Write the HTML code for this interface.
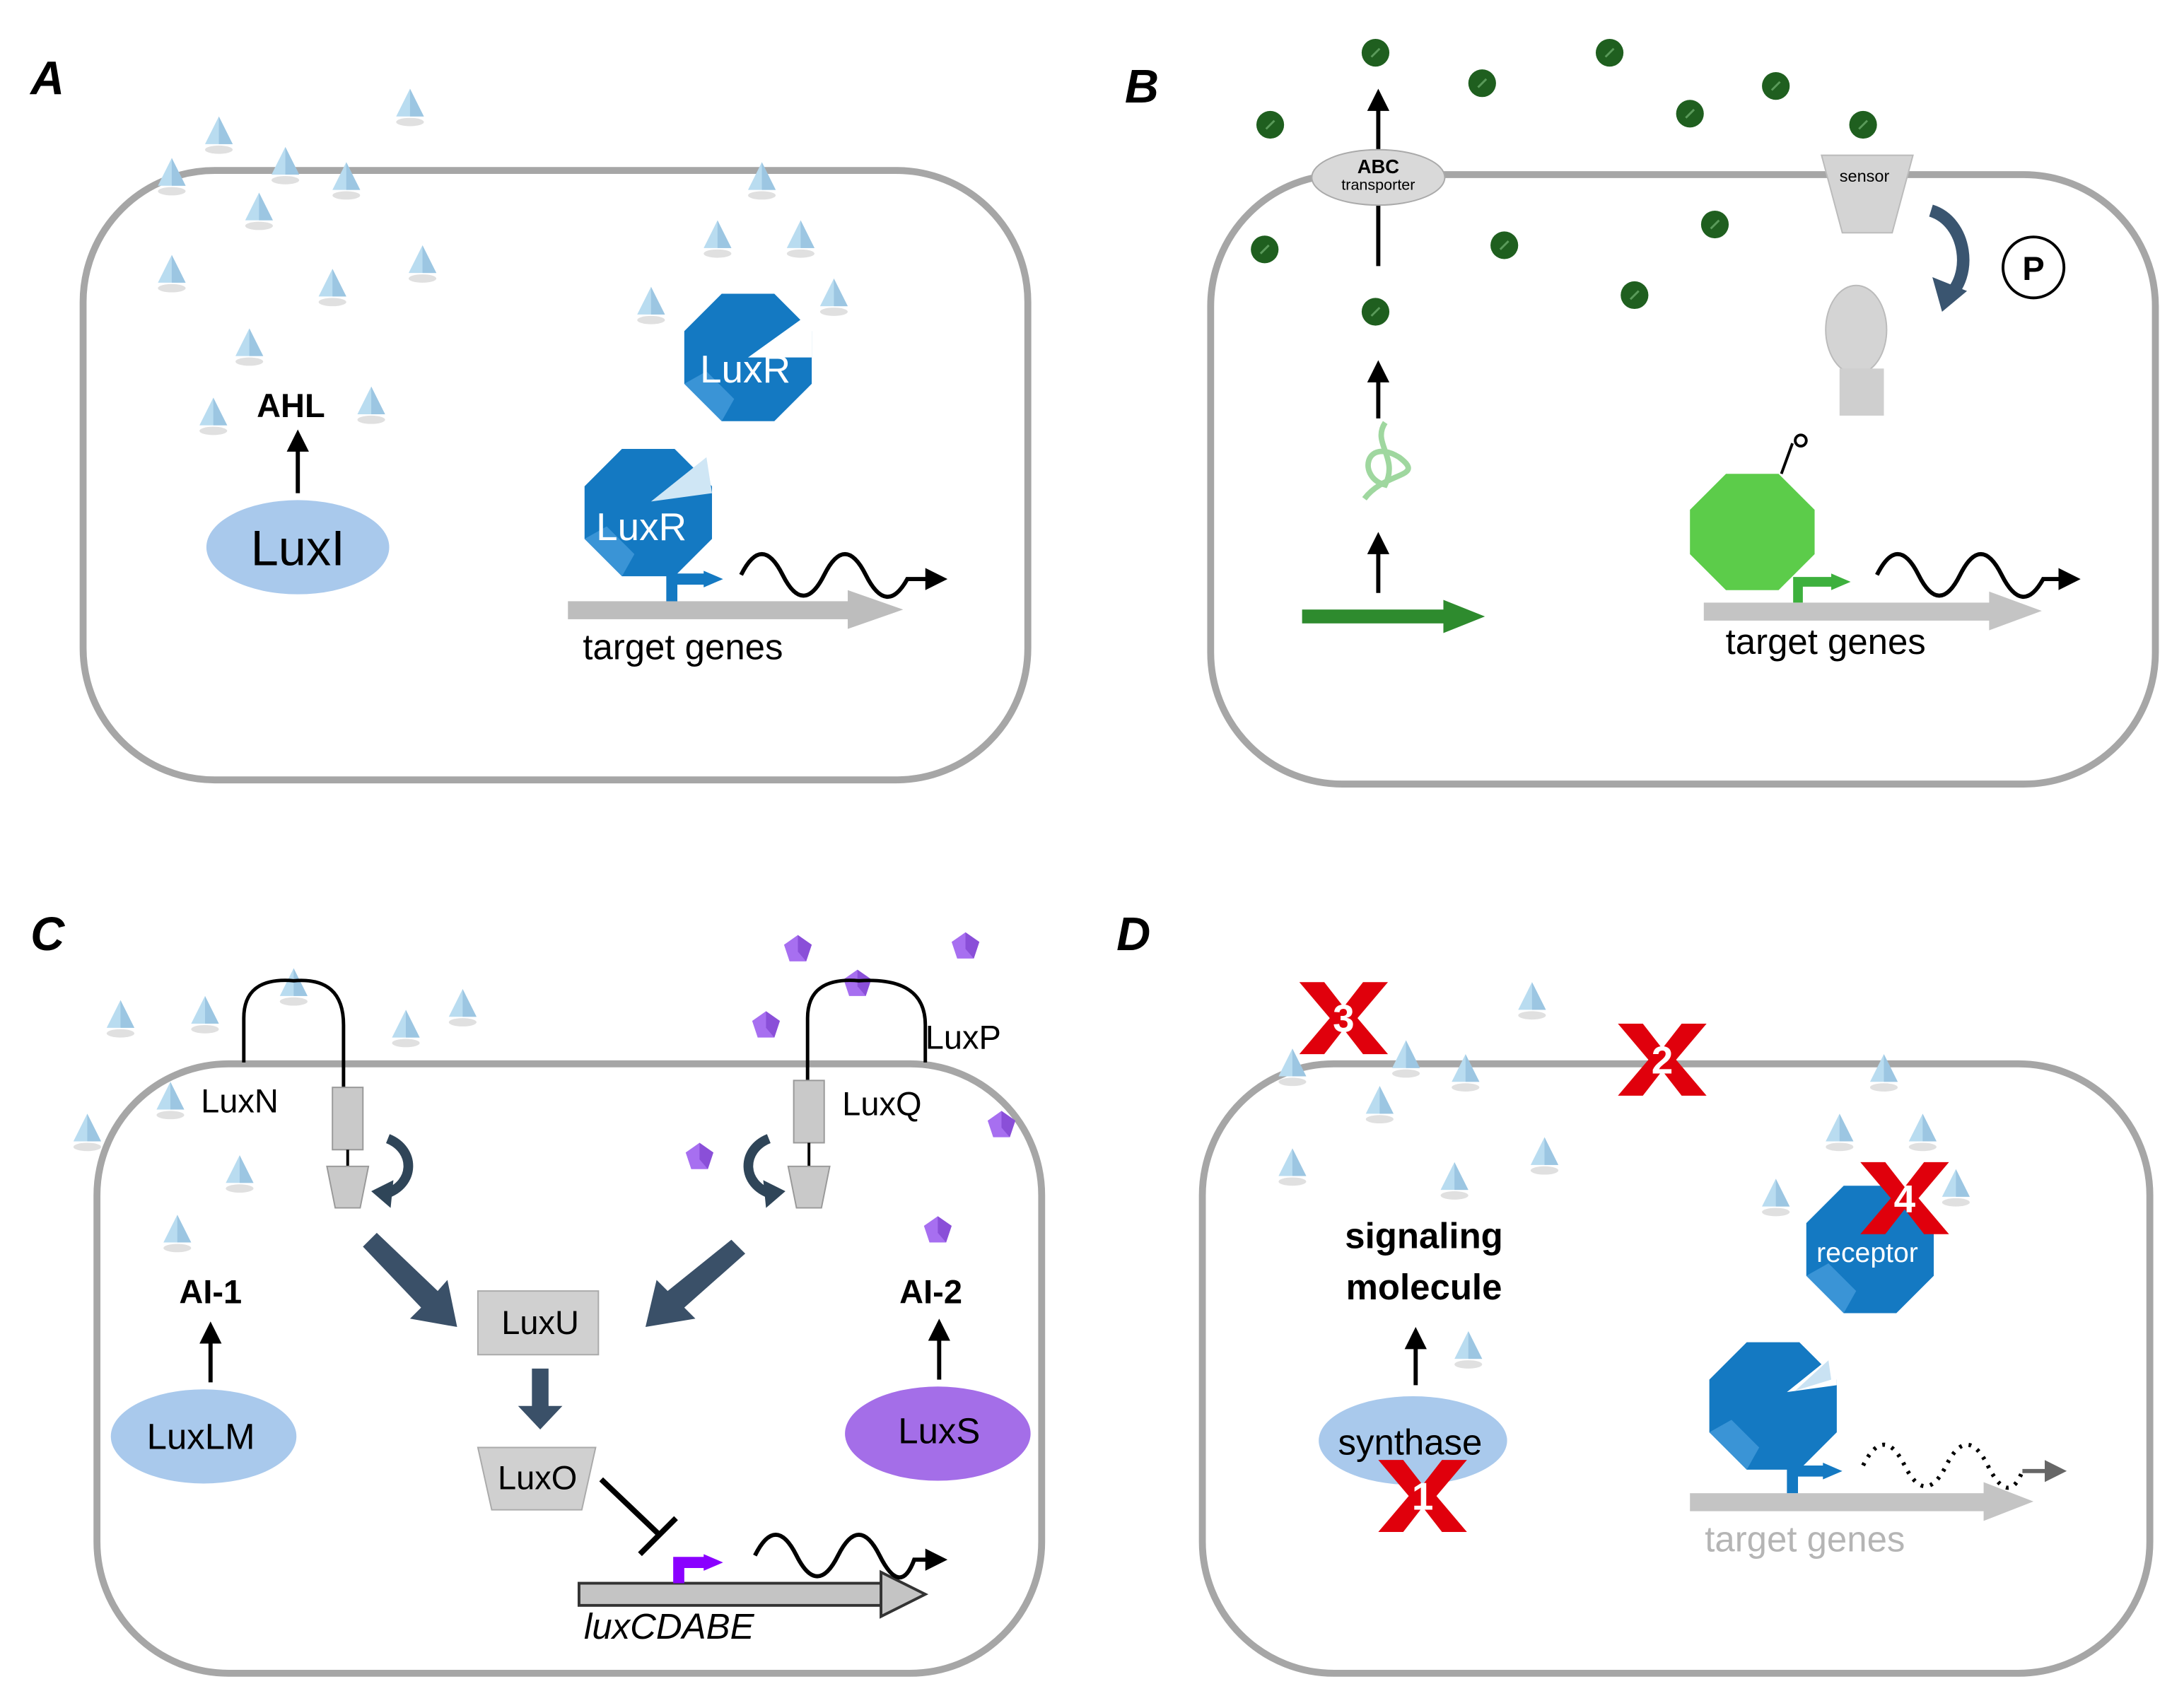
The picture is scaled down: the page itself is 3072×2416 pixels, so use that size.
<!DOCTYPE html>
<html><head><meta charset="utf-8"><style>
html,body{margin:0;padding:0;background:#fff;}
svg{display:block;}
text{font-family:"Liberation Sans",sans-serif;}
</style></head><body>
<svg width="3072" height="2416" viewBox="0 0 1568 1233" xmlns="http://www.w3.org/2000/svg">
<defs>
<g id="tri"><ellipse cx="0" cy="13" rx="10" ry="3" fill="#ccc" opacity="0.6"/><polygon points="0,-11 -10,9 10,9" fill="#b9dcf0"/><polygon points="0,-11 0,9 10,9" fill="#9cc6e2"/></g>
<g id="pen"><polygon points="0,-10 10,-3 6,9 -6,9 -10,-3" fill="#a76ff0"/><polygon points="0,-10 10,-3 6,9 0,2" fill="#8a4fd8"/></g>
<g id="dot"><circle r="10" fill="#1f5f1f"/><line x1="-3" y1="3" x2="3" y2="-3" stroke="#5a9a5a" stroke-width="1.5"/></g>
<g id="oct"><polygon points="-19,-46 19,-46 46,-19 46,19 19,46 -19,46 -46,19 -46,-19" fill="#1479c2"/><polygon points="-19,46 -46,19 -30,10 -10,30" fill="#3a94d6"/></g>
<g id="xm"><polygon points="-32,-26 -14,-26 0,-8 14,-26 32,-26 10,0 32,26 14,26 0,8 -14,26 -32,26 -10,0" fill="#e0000c"/></g>
<marker id="ah" markerWidth="10" markerHeight="10" refX="7" refY="5" orient="auto" markerUnits="userSpaceOnUse"><polygon points="0,0 10,5 0,10" fill="#000"/></marker>
<marker id="ahb" markerWidth="16" markerHeight="16" refX="8" refY="8" orient="auto" markerUnits="userSpaceOnUse"><polygon points="0,0 16,8 0,16" fill="#000"/></marker>
<marker id="ahg" markerWidth="16" markerHeight="16" refX="8" refY="8" orient="auto" markerUnits="userSpaceOnUse"><polygon points="0,0 16,8 0,16" fill="#666"/></marker>
</defs>

<!-- cells -->
<g fill="none" stroke="#a6a6a6" stroke-width="5">
<rect x="60" y="123" width="682" height="440" rx="95"/>
<rect x="874" y="126" width="682" height="440" rx="95"/>
<rect x="70" y="768" width="682" height="440" rx="95"/>
<rect x="868" y="768" width="684" height="440" rx="95"/>
</g>

<g font-weight="bold" font-style="italic" font-size="34">
<text x="22" y="68">A</text><text x="812" y="74">B</text><text x="22" y="686">C</text><text x="806" y="686">D</text>
</g>

<!-- Panel A -->
<g>
<use href="#tri" x="158" y="95"/><use href="#tri" x="296" y="75"/><use href="#tri" x="124" y="125"/><use href="#tri" x="206" y="117"/>
<use href="#tri" x="250" y="128"/><use href="#tri" x="187" y="150"/><use href="#tri" x="124" y="195"/><use href="#tri" x="240" y="205"/>
<use href="#tri" x="305" y="188"/><use href="#tri" x="180" y="248"/><use href="#tri" x="154" y="298"/><use href="#tri" x="268" y="290"/>
<use href="#tri" x="550" y="128"/><use href="#tri" x="518" y="170"/><use href="#tri" x="578" y="170"/><use href="#tri" x="470" y="218"/><use href="#tri" x="602" y="212"/>
</g>
<text x="210" y="301" font-size="24" font-weight="bold" text-anchor="middle">AHL</text>
<line x1="215" y1="356" x2="215" y2="318" stroke="#000" stroke-width="3" marker-end="url(#ahb)"/>
<ellipse cx="215" cy="395" rx="66" ry="34" fill="#a9c9ec"/>
<text x="215" y="408" font-size="36" text-anchor="middle">LuxI</text>
<use href="#oct" x="540" y="258"/><polygon points="540,258 586,225 586,258" fill="#fff"/>
<text x="538" y="276" font-size="28" fill="#fff" text-anchor="middle">LuxR</text>
<use href="#oct" x="468" y="370"/><polygon points="470,362 510,330 514,356" fill="#cfe6f5"/>
<text x="463" y="390" font-size="28" fill="#fff" text-anchor="middle">LuxR</text>
<rect x="410" y="434" width="205" height="13" fill="#bdbdbd"/><polygon points="612,426 652,440 612,454" fill="#bdbdbd"/>
<path d="M485,434 V418 H510" stroke="#1479c2" stroke-width="8" fill="none"/><polygon points="508,412 522,418 508,424" fill="#1479c2"/>
<path d="M535,415 Q550,385 565,415 T595,415 T625,415 T655,418 H676" stroke="#000" stroke-width="3" fill="none" marker-end="url(#ahb)"/>
<text x="493" y="476" font-size="26" text-anchor="middle">target genes</text>

<!-- Panel B -->
<g>
<use href="#dot" x="993" y="38"/><use href="#dot" x="1070" y="60"/><use href="#dot" x="1162" y="38"/><use href="#dot" x="917" y="90"/>
<use href="#dot" x="1220" y="82"/><use href="#dot" x="1282" y="62"/><use href="#dot" x="1345" y="90"/><use href="#dot" x="913" y="180"/>
<use href="#dot" x="1086" y="177"/><use href="#dot" x="1238" y="162"/><use href="#dot" x="1180" y="213"/><use href="#dot" x="993" y="225"/>
</g>
<line x1="995" y1="192" x2="995" y2="72" stroke="#000" stroke-width="3" marker-end="url(#ahb)"/>
<ellipse cx="995" cy="128" rx="48" ry="20" fill="#d9d9d9" stroke="#aaa"/>
<text x="995" y="125" font-size="14" font-weight="bold" text-anchor="middle">ABC</text>
<text x="995" y="137" font-size="11" text-anchor="middle">transporter</text>
<line x1="995" y1="302" x2="995" y2="268" stroke="#000" stroke-width="3" marker-end="url(#ahb)"/>
<path d="M985,360 C1000,340 1030,345 1010,330 C985,315 980,345 1000,350 C1010,330 990,320 1000,305" stroke="#9fd79f" stroke-width="4" fill="none"/>
<line x1="995" y1="428" x2="995" y2="392" stroke="#000" stroke-width="3" marker-end="url(#ahb)"/>
<rect x="940" y="440" width="105" height="10" fill="#2e8b2e"/><polygon points="1042,433 1072,445 1042,457" fill="#2e8b2e"/>
<polygon points="1315,112 1381,112 1366,168 1330,168" fill="#d4d4d4" stroke="#bbb"/>
<text x="1346" y="131" font-size="12" text-anchor="middle">sensor</text>
<path d="M1394,152 C1420,160 1425,200 1405,215" stroke="#3a5570" stroke-width="9" fill="none"/>
<polygon points="1395,200 1420,210 1402,225" fill="#3a5570"/>
<circle cx="1468" cy="193" r="22" fill="#fff" stroke="#000" stroke-width="2"/>
<text x="1468" y="202" font-size="24" font-weight="bold" text-anchor="middle">P</text>
<ellipse cx="1340" cy="238" rx="22" ry="32" fill="#d4d4d4" stroke="#bbb"/>
<rect x="1328" y="266" width="32" height="34" fill="#cfcfcf"/>
<polygon points="1246,342 1284,342 1310,368 1310,400 1284,426 1246,426 1220,400 1220,368" fill="#5ccc4a"/>
<path d="M1286,342 L1294,320" stroke="#000" stroke-width="2"/><circle cx="1300" cy="318" r="4" fill="none" stroke="#000" stroke-width="2"/>
<rect x="1230" y="435" width="210" height="13" fill="#c4c4c4"/><polygon points="1436,427 1474,441 1436,455" fill="#c4c4c4"/>
<path d="M1298,435 V420 H1325" stroke="#3db03d" stroke-width="7" fill="none"/><polygon points="1322,414 1336,420 1322,426" fill="#3db03d"/>
<path d="M1355,415 Q1370,385 1385,415 T1415,415 T1445,415 T1475,418 H1494" stroke="#000" stroke-width="3" fill="none" marker-end="url(#ahb)"/>
<text x="1318" y="472" font-size="26" text-anchor="middle">target genes</text>

<!-- Panel C -->
<g>
<use href="#tri" x="87" y="733"/><use href="#tri" x="148" y="730"/><use href="#tri" x="212" y="710"/><use href="#tri" x="293" y="740"/>
<use href="#tri" x="334" y="725"/><use href="#tri" x="63" y="815"/><use href="#tri" x="123" y="792"/><use href="#tri" x="173" y="845"/><use href="#tri" x="128" y="888"/>
<use href="#pen" x="576" y="685"/><use href="#pen" x="697" y="683"/><use href="#pen" x="553" y="740"/>
<use href="#pen" x="723" y="812"/><use href="#pen" x="505" y="835"/><use href="#pen" x="677" y="888"/>
</g>
<path d="M176,767 V735 Q176,705 212,708 Q248,705 248,740 V790" stroke="#000" stroke-width="2.5" fill="none"/>
<use href="#pen" x="619" y="710"/>
<path d="M583,785 V735 Q583,705 620,708 Q668,705 668,740 V767" stroke="#000" stroke-width="2.5" fill="none"/>
<text x="145" y="803" font-size="24">LuxN</text>
<text x="668" y="757" font-size="24">LuxP</text>
<text x="608" y="805" font-size="24">LuxQ</text>
<rect x="240" y="785" width="22" height="45" fill="#c9c9c9" stroke="#999"/>
<line x1="251" y1="830" x2="251" y2="842" stroke="#000" stroke-width="2"/>
<polygon points="236,842 266,842 260,872 242,872" fill="#c9c9c9" stroke="#999"/>
<rect x="573" y="780" width="22" height="45" fill="#c9c9c9" stroke="#999"/>
<line x1="584" y1="825" x2="584" y2="842" stroke="#000" stroke-width="2"/>
<polygon points="569,842 599,842 593,872 575,872" fill="#c9c9c9" stroke="#999"/>
<path d="M280,822 C300,830 300,855 278,862" stroke="#2f4558" stroke-width="7" fill="none"/><polygon points="268,860 284,852 282,872" fill="#2f4558"/>
<path d="M555,822 C535,830 535,855 557,862" stroke="#2f4558" stroke-width="7" fill="none"/><polygon points="567,860 551,852 553,872" fill="#2f4558"/>
<g fill="#3a5068">
<polygon points="262,900 272,890 316,932 323,924 330,958 296,952 304,944" />
<polygon points="528,895 538,905 494,944 502,952 466,958 474,924 482,932"/>
<polygon points="384,988 396,988 396,1015 406,1015 390,1032 374,1015 384,1015"/>
</g>
<rect x="345" y="932" width="87" height="46" fill="#d0d0d0" stroke="#aaa"/>
<text x="390" y="963" font-size="24" text-anchor="middle">LuxU</text>
<polygon points="345,1045 430,1045 420,1090 355,1090" fill="#d0d0d0" stroke="#aaa"/>
<text x="388" y="1075" font-size="24" text-anchor="middle">LuxO</text>
<line x1="434" y1="1068" x2="476" y2="1108" stroke="#000" stroke-width="4"/>
<line x1="462" y1="1122" x2="488" y2="1096" stroke="#000" stroke-width="4"/>
<rect x="418" y="1143" width="220" height="16" fill="#c4c4c4" stroke="#333" stroke-width="2"/>
<polygon points="636,1135 668,1151 636,1167" fill="#c4c4c4" stroke="#333" stroke-width="2"/>
<path d="M490,1143 V1128 H510" stroke="#8a00ff" stroke-width="8" fill="none"/><polygon points="508,1122 522,1128 508,1134" fill="#8a00ff"/>
<path d="M545,1123 Q560,1093 575,1123 T605,1123 T635,1123 T660,1126 H676" stroke="#000" stroke-width="3" fill="none" marker-end="url(#ahb)"/>
<text x="483" y="1183" font-size="26" font-style="italic" text-anchor="middle">luxCDABE</text>
<text x="152" y="941" font-size="24" font-weight="bold" text-anchor="middle">AI-1</text>
<line x1="152" y1="998" x2="152" y2="962" stroke="#000" stroke-width="3" marker-end="url(#ahb)"/>
<ellipse cx="147" cy="1037" rx="67" ry="34" fill="#a9c9ec"/>
<text x="145" y="1046" font-size="26" text-anchor="middle">LuxLM</text>
<text x="672" y="941" font-size="24" font-weight="bold" text-anchor="middle">AI-2</text>
<line x1="678" y1="996" x2="678" y2="960" stroke="#000" stroke-width="3" marker-end="url(#ahb)"/>
<ellipse cx="677" cy="1035" rx="67" ry="34" fill="#a46ee8"/>
<text x="678" y="1042" font-size="26" text-anchor="middle">LuxS</text>

<!-- Panel D -->
<g>
<use href="#tri" x="1106" y="720"/><use href="#tri" x="933" y="768"/><use href="#tri" x="1015" y="762"/><use href="#tri" x="1058" y="772"/>
<use href="#tri" x="996" y="795"/><use href="#tri" x="1360" y="772"/><use href="#tri" x="933" y="840"/><use href="#tri" x="1050" y="850"/>
<use href="#tri" x="1115" y="832"/><use href="#tri" x="1328" y="815"/><use href="#tri" x="1388" y="815"/><use href="#tri" x="1282" y="862"/>
<use href="#tri" x="1412" y="855"/><use href="#tri" x="1060" y="972"/>
</g>
<text x="1028" y="901" font-size="26" font-weight="bold" text-anchor="middle">signaling</text>
<text x="1028" y="938" font-size="26" font-weight="bold" text-anchor="middle">molecule</text>
<line x1="1022" y1="1000" x2="1022" y2="966" stroke="#000" stroke-width="3" marker-end="url(#ahb)"/>
<ellipse cx="1020" cy="1040" rx="68" ry="32" fill="#a9c9ec"/>
<text x="1018" y="1050" font-size="26" text-anchor="middle">synthase</text>
<use href="#oct" x="1350" y="902"/>
<text x="1348" y="911" font-size="20" fill="#fff" text-anchor="middle">receptor</text>
<use href="#oct" x="1280" y="1015"/><polygon points="1290,1005 1326,976 1326,1000" fill="#fff"/><polygon points="1296,1004 1320,982 1322,996" fill="#c9e2f3"/>
<rect x="1220" y="1078" width="215" height="13" fill="#c4c4c4"/><polygon points="1432,1070 1468,1084 1432,1098" fill="#c4c4c4"/>
<path d="M1294,1078 V1062 H1318" stroke="#1479c2" stroke-width="8" fill="none"/><polygon points="1316,1056 1330,1062 1316,1068" fill="#1479c2"/>
<path d="M1345,1058 Q1360,1028 1375,1058 T1405,1058 T1435,1058 T1460,1062" stroke="#000" stroke-width="3" stroke-dasharray="2,5" fill="none"/>
<line x1="1460" y1="1062" x2="1484" y2="1062" stroke="#666" stroke-width="3" marker-end="url(#ahg)"/>
<text x="1303" y="1120" font-size="26" fill="#b5b5b5" text-anchor="middle">target genes</text>
<g font-size="28" font-weight="bold" fill="#fff" text-anchor="middle">
<use href="#xm" x="970" y="735"/><text x="970" y="745">3</text>
<use href="#xm" x="1200" y="765"/><text x="1200" y="775">2</text>
<use href="#xm" x="1375" y="865"/><text x="1375" y="875">4</text>
<use href="#xm" x="1027" y="1080"/><text x="1027" y="1090">1</text>
</g>
</svg>
</body></html>
